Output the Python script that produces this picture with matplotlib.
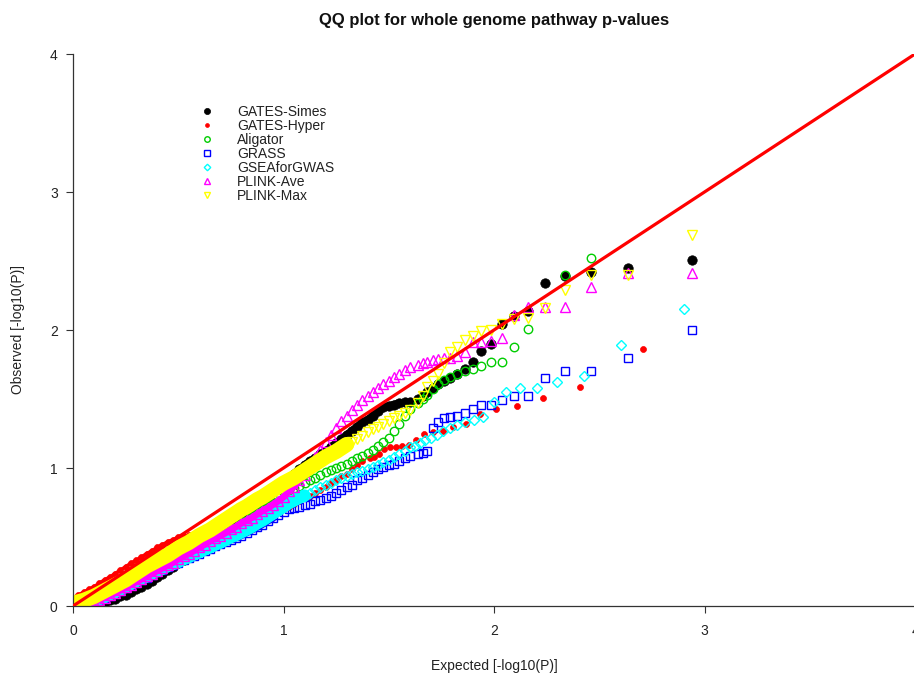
import matplotlib
matplotlib.use("Agg")
import matplotlib.pyplot as plt
from matplotlib.lines import Line2D

plt.rcParams['font.family'] = ['Liberation Sans', 'DejaVu Sans']

# ---------------- data ----------------
# expected -log10(P) positions (n = 870 pathways)
expected_main = [2.940, 2.638, 2.462, 2.337, 2.240, 2.161, 2.094, 2.036, 1.985, 1.940,
                 1.898, 1.860, 1.826, 1.793, 1.763, 1.735, 1.709, 1.684, 1.661, 1.639,
                 1.600, 1.575, 1.550, 1.525, 1.500, 1.475, 1.450, 1.425, 1.400, 1.375,
                 1.350, 1.325, 1.300, 1.275, 1.250, 1.225, 1.200, 1.175, 1.150, 1.125,
                 1.100, 1.075, 1.050, 1.025, 1.000, 0.975, 0.950, 0.925, 0.900, 0.875,
                 0.850, 0.825, 0.800, 0.775, 0.750, 0.725, 0.700, 0.675, 0.650, 0.625,
                 0.600, 0.575, 0.550, 0.525, 0.500, 0.475, 0.450, 0.425, 0.400, 0.375,
                 0.350, 0.325, 0.300, 0.275, 0.250, 0.225, 0.200, 0.175, 0.150, 0.125,
                 0.100, 0.075, 0.050, 0.025, 0.000]
# GATES-Hyper has its own positions (n = 513)
expected_hyper = [2.710, 2.409, 2.233, 2.108, 2.011, 1.932, 1.865, 1.807, 1.756, 1.710,
                  1.669, 1.631, 1.597, 1.565, 1.534, 1.506, 1.479, 1.455, 1.431, 1.409,
                  1.375, 1.350, 1.325, 1.300, 1.275, 1.250, 1.225, 1.200, 1.175, 1.150,
                  1.125, 1.100, 1.075, 1.050, 1.025, 1.000, 0.975, 0.950, 0.925, 0.900,
                  0.875, 0.850, 0.825, 0.800, 0.775, 0.750, 0.725, 0.700, 0.675, 0.650,
                  0.625, 0.600, 0.575, 0.550, 0.525, 0.500, 0.475, 0.450, 0.425, 0.400,
                  0.375, 0.350, 0.325, 0.300, 0.275, 0.250, 0.225, 0.200, 0.175, 0.150,
                  0.125, 0.100, 0.075, 0.050, 0.025, 0.000]
# GSEAforGWAS positions (n = 800)
expected_gsea = [2.903, 2.602, 2.426, 2.301, 2.204, 2.125, 2.058, 2.000, 1.949, 1.903,
                 1.862, 1.824, 1.789, 1.757, 1.727, 1.699, 1.673, 1.648, 1.624, 1.602,
                 1.575, 1.550, 1.525, 1.500, 1.475, 1.450, 1.425, 1.400, 1.375,
                 1.350, 1.325, 1.300, 1.275, 1.250, 1.225, 1.200, 1.175, 1.150, 1.125,
                 1.100, 1.075, 1.050, 1.025, 1.000, 0.975, 0.950, 0.925, 0.900, 0.875,
                 0.850, 0.825, 0.800, 0.775, 0.750, 0.725, 0.700, 0.675, 0.650, 0.625,
                 0.600, 0.575, 0.550, 0.525, 0.500, 0.475, 0.450, 0.425, 0.400, 0.375,
                 0.350, 0.325, 0.300, 0.275, 0.250, 0.225, 0.200, 0.175, 0.150, 0.125,
                 0.100, 0.075, 0.050, 0.025, 0.000]

nan = float('nan')

obs_simes = [2.51, 2.45, 2.42, 2.39, 2.34, 2.14, 2.10, 2.04, 1.90, 1.85,
             1.77, 1.72, 1.68, 1.65, 1.63, 1.61, 1.58, 1.55, 1.52, 1.50,
             1.48, 1.475, 1.47, 1.46, 1.45, 1.44, 1.41, 1.38, 1.35, 1.33,
             1.30, 1.27, 1.24, 1.21, 1.18, 1.15, 1.12, 1.10, 1.07, 1.05,
             1.02, 0.99, 0.96, 0.93, 0.90, 0.87, 0.84, 0.81, 0.77, 0.74,
             0.71, 0.68, 0.64, 0.61, 0.58, 0.55, 0.52, 0.49, 0.46, 0.44,
             0.41, 0.38, 0.36, 0.33, 0.31, 0.28, 0.26, 0.23, 0.21, 0.18,
             0.16, 0.14, 0.12, 0.10, 0.08, 0.07, 0.05, 0.04, 0.03, 0.02,
             0.01, 0.00, 0.00, 0.00, 0.00]

obs_hyper = [1.86, 1.59, 1.51, 1.45, 1.43, 1.39, 1.32, 1.30, 1.27, 1.26,
             1.25, 1.20, 1.17, 1.16, 1.15, 1.15, 1.14, 1.10, 1.08, 1.07,
             1.05, 1.02, 0.99, 0.96, 0.94, 0.91, 0.89, 0.86, 0.84, 0.82,
             0.80, 0.78, 0.76, 0.74, 0.72, 0.70, 0.68, 0.66, 0.64, 0.62,
             0.60, 0.58, 0.57, 0.56, 0.55, 0.55, 0.54, 0.54, 0.53, 0.53,
             0.525, 0.52, 0.52, 0.515, 0.51, 0.50, 0.48, 0.465, 0.445, 0.425,
             0.40, 0.38, 0.355, 0.33, 0.31, 0.285, 0.26, 0.235, 0.21, 0.19,
             0.165, 0.14, 0.12, 0.10, 0.08, 0.06]

obs_aligator = [nan, nan, 2.52, 2.40, nan, 2.01, 1.88, 1.77, 1.77, 1.74,
                1.72, 1.70, 1.68, 1.66, 1.64, 1.61, 1.57, 1.53, 1.50, 1.47,
                1.43, 1.38, 1.32, 1.27, 1.22, 1.19, 1.16, 1.13, 1.11, 1.09,
                1.07, 1.05, 1.03, 1.015, 1.00, 0.985, 0.97, 0.95, 0.93, 0.91,
                0.89, 0.87, 0.855, 0.84, 0.82, 0.80, 0.775, 0.75, 0.72, 0.69,
                0.66, 0.635, 0.61, 0.585, 0.56, 0.54, 0.515, 0.495, 0.47, 0.45,
                0.43, 0.41, 0.39, 0.37, 0.35, 0.33, 0.31, 0.29, 0.27, 0.25,
                0.23, 0.21, 0.19, 0.17, 0.15, 0.13, 0.11, 0.09, 0.06, 0.03,
                0.01, 0.00, 0.00, 0.00, 0.00]

obs_grass = [2.00, 1.80, 1.70, 1.70, 1.65, 1.52, 1.52, 1.49, 1.46, 1.46,
             1.43, 1.40, 1.38, 1.37, 1.36, 1.33, 1.29, 1.12, 1.11, 1.10,
             1.09, 1.07, 1.05, 1.03, 1.02, 1.01, 0.99, 0.97, 0.95, 0.93,
             0.91, 0.88, 0.86, 0.84, 0.82, 0.80, 0.78, 0.77, 0.76, 0.74,
             0.73, 0.72, 0.71, 0.70, 0.68, 0.66, 0.635, 0.615, 0.59, 0.57,
             0.55, 0.53, 0.51, 0.495, 0.48, 0.465, 0.45, 0.435, 0.415, 0.40,
             0.38, 0.365, 0.345, 0.33, 0.31, 0.295, 0.28, 0.26, 0.245, 0.225,
             0.205, 0.19, 0.17, 0.15, 0.13, 0.11, 0.09, 0.075, 0.055, 0.04,
             0.025, 0.015, 0.005, 0.00, 0.00]

obs_gsea = [2.15, 1.89, 1.67, 1.62, 1.58, 1.58, 1.55, 1.48, 1.37, 1.35,
            1.33, 1.31, 1.29, 1.27, 1.24, 1.22, 1.20, 1.18, 1.16, 1.15,
            1.12, 1.10, 1.08, 1.06, 1.04, 1.02, 1.005, 0.99, 0.98,
            0.97, 0.955, 0.94, 0.925, 0.91, 0.89, 0.875, 0.86, 0.84, 0.82,
            0.80, 0.785, 0.765, 0.745, 0.72, 0.695, 0.67, 0.645, 0.62, 0.60,
            0.575, 0.555, 0.535, 0.515, 0.50, 0.48, 0.46, 0.445, 0.425, 0.41,
            0.39, 0.375, 0.355, 0.34, 0.32, 0.305, 0.29, 0.27, 0.255, 0.235,
            0.215, 0.20, 0.18, 0.16, 0.14, 0.12, 0.10, 0.085, 0.065, 0.05,
            0.03, 0.02, 0.01, 0.00, 0.00]

obs_plink_ave = [2.41, 2.41, 2.31, 2.17, 2.17, 2.17, 2.11, 1.94, 1.92, 1.91,
                 1.91, 1.84, 1.81, 1.80, 1.80, 1.79, 1.78, 1.77, 1.76, 1.75,
                 1.73, 1.71, 1.68, 1.66, 1.63, 1.61, 1.58, 1.55, 1.52, 1.49,
                 1.46, 1.42, 1.38, 1.34, 1.29, 1.24, 1.19, 1.13, 1.08, 1.03,
                 0.95, 0.91, 0.865, 0.83, 0.79, 0.76, 0.735, 0.71, 0.69, 0.665,
                 0.64, 0.62, 0.60, 0.575, 0.555, 0.53, 0.51, 0.49, 0.47, 0.445,
                 0.425, 0.40, 0.38, 0.36, 0.34, 0.315, 0.295, 0.275, 0.255, 0.235,
                 0.215, 0.195, 0.175, 0.155, 0.135, 0.115, 0.095, 0.08, 0.06, 0.045,
                 0.03, 0.02, 0.01, 0.00, 0.00]

obs_plink_max = [2.69, 2.40, 2.40, 2.29, 2.16, 2.09, 2.08, 2.04, 2.00, 1.99,
                 1.96, 1.93, 1.88, 1.84, 1.76, 1.68, 1.63, 1.59, 1.52, 1.47,
                 1.42, 1.40, 1.38, 1.36, 1.34, 1.32, 1.30, 1.28, 1.26, 1.235,
                 1.21, 1.19, 1.17, 1.145, 1.12, 1.10, 1.08, 1.055, 1.03, 1.005,
                 0.98, 0.955, 0.93, 0.91, 0.89, 0.865, 0.84, 0.815, 0.79, 0.77,
                 0.745, 0.72, 0.70, 0.675, 0.65, 0.625, 0.60, 0.575, 0.55, 0.53,
                 0.51, 0.485, 0.46, 0.44, 0.42, 0.395, 0.37, 0.35, 0.33, 0.31,
                 0.29, 0.265, 0.24, 0.215, 0.19, 0.17, 0.15, 0.13, 0.11, 0.09,
                 0.07, 0.055, 0.04, 0.03, 0.02]

series_labels = ['GATES-Simes', 'GATES-Hyper', 'Aligator', 'GRASS',
                 'GSEAforGWAS', 'PLINK-Ave', 'PLINK-Max']
tick_values = [0, 1, 2, 3, 4]

# ---------------- styling ----------------
# (x, y, colour, marker, marker size pt, filled, dense-band width pt, dense-band end)
series = [
    (expected_main,  obs_simes,      '#000000', 'o', 6.8, True,  5.5, 1.56),
    (expected_hyper, obs_hyper,      '#FF0000', 'o', 4.3, True,  2.5, 0.50),
    (expected_main,  obs_aligator,   '#00CD00', 'o', 6.1, False, 3.5, 0.95),
    (expected_main,  obs_grass,      '#0000FF', 's', 6.0, False, 5.0, 0.95),
    (expected_gsea,  obs_gsea,       '#00FFFF', 'D', 5.1, False, 9.0, 1.10),
    (expected_main,  obs_plink_ave,  '#FF00FF', '^', 7.4, False, 5.0, 1.12),
    (expected_main,  obs_plink_max,  '#FFFF00', 'v', 7.4, False, 11.0, 1.30),
]

W, H = 914, 675
fig = plt.figure(figsize=(W / 100, H / 100), dpi=100)
ax = fig.add_axes([73 / W, 69 / H, 842 / W, 552 / H])

handles = []
for (xs, ys, col, mk, ms, filled, bw, bend), lab in zip(series, series_labels):
    kw = dict(linestyle='none', marker=mk, markersize=ms, markeredgecolor=col,
              markeredgewidth=1.0 if not filled else 0.5,
              markerfacecolor=col if filled else 'none')
    # the dense part of the series, where the overlapping symbols merge into a band
    dx = [x for x, y in zip(xs, ys) if x <= bend]
    dy = [y for x, y in zip(xs, ys) if x <= bend]
    ax.plot(dx, dy, color=col, linewidth=bw, solid_capstyle='round',
            solid_joinstyle='round')
    ax.plot(xs, ys, **kw)
    handles.append(Line2D([], [], label=lab, **kw))

ax.axline((0, 0), slope=1, color='#FF0000', linewidth=2.3, zorder=5)

ax.set_xlim(0, 4)
ax.set_ylim(0, 4)
ax.set_xticks(tick_values)
ax.set_yticks(tick_values)
for s in ['top', 'right']:
    ax.spines[s].set_visible(False)
for s in ['left', 'bottom']:
    ax.spines[s].set_color('#333333')
    ax.spines[s].set_linewidth(0.9)
ax.tick_params(axis='both', direction='out', length=5, width=0.8,
               color='#333333', labelsize=10, labelcolor='#222222')
ax.tick_params(axis='x', pad=8)
ax.tick_params(axis='y', pad=6)

leg = ax.legend(handles=handles, loc='upper left', bbox_to_anchor=(0.1425, 0.908),
                frameon=False, fontsize=10, handlelength=2.0, handletextpad=1.16,
                labelspacing=0.0, borderpad=0, borderaxespad=0, markerscale=0.65)
for t in leg.get_texts():
    t.set_color('#222222')

fig.text(494 / W, 1 - 20 / H, 'QQ plot for whole genome pathway p-values',
         ha='center', va='center', fontsize=12, fontweight='bold', color='#111111')
fig.text(494 / W, 1 - 666 / H, 'Expected [-log10(P)]', ha='center', va='center',
         fontsize=10, color='#222222')
fig.text(18 / W, 1 - 330 / H, 'Observed [-log10(P)]', ha='center', va='center',
         rotation=90, fontsize=10, color='#222222')

fig.savefig('out.png', dpi=100)
